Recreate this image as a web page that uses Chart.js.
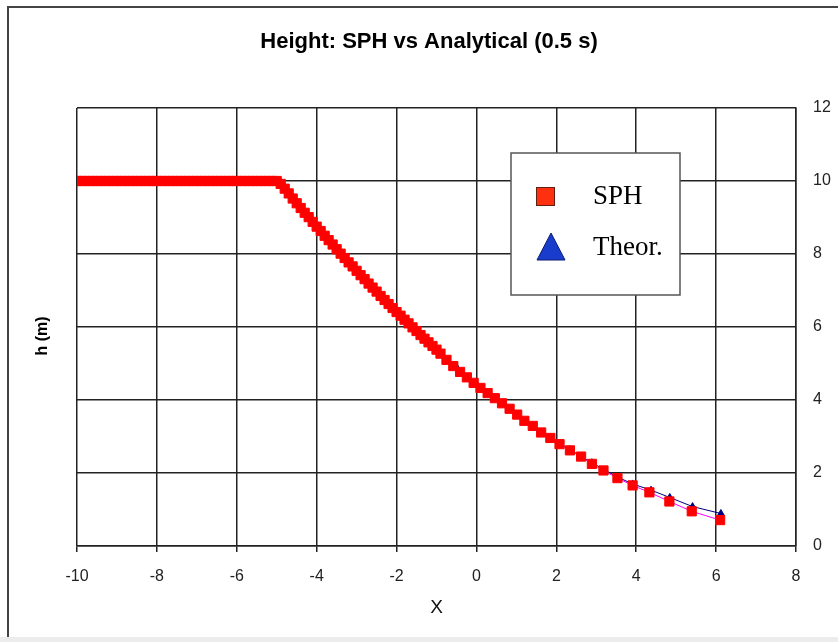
<!DOCTYPE html>
<html>
<head>
<meta charset="utf-8">
<script src="https://cdn.jsdelivr.net/npm/chart.js@4.4.1/dist/chart.umd.min.js"></script>
<style>
  html, body { margin: 0; padding: 0; background: #fff; }
  #wrap { width: 838px; height: 642px; position: relative; }
</style>
</head>
<body>
<div id="wrap"><canvas id="heightChart" width="838" height="642"></canvas></div>
<script>
// values
const sphX = [
  -10.0, -9.9, -9.8, -9.7, -9.6, -9.5, -9.4, -9.3, -9.2, -9.1,
  -9.0, -8.9, -8.8, -8.7, -8.6, -8.5, -8.4, -8.3, -8.2, -8.1,
  -8.0, -7.9, -7.8, -7.7, -7.6, -7.5, -7.4, -7.3, -7.2, -7.1,
  -7.0, -6.9, -6.8, -6.7, -6.6, -6.5, -6.4, -6.3, -6.2, -6.1,
  -6.0, -5.9, -5.8, -5.7, -5.6, -5.5, -5.4, -5.3, -5.2, -5.1, -5.0,
  -4.9, -4.8, -4.7, -4.6, -4.5, -4.4, -4.3, -4.2, -4.1, -4.0,
  -3.9, -3.8, -3.7, -3.6, -3.5, -3.4, -3.3, -3.2, -3.1, -3.0,
  -2.9, -2.8, -2.7, -2.6, -2.5, -2.4, -2.3, -2.2, -2.1, -2.0,
  -1.9, -1.8, -1.7, -1.6, -1.5, -1.4, -1.3, -1.2, -1.1, -1.0,
  -0.9, -0.75, -0.58, -0.41, -0.24, -0.07, 0.10, 0.28, 0.46, 0.64,
  0.83, 1.02, 1.20, 1.41, 1.62, 1.85, 2.08, 2.34, 2.62, 2.89,
  3.18, 3.53, 3.91, 4.33, 4.83, 5.39, 6.10
];
const sphH = [
  10, 10, 10, 10, 10, 10, 10, 10, 10, 10,
  10, 10, 10, 10, 10, 10, 10, 10, 10, 10,
  10, 10, 10, 10, 10, 10, 10, 10, 10, 10,
  10, 10, 10, 10, 10, 10, 10, 10, 10, 10,
  10, 10, 10, 10, 10, 10, 10, 10, 10, 10, 10,
  9.92, 9.79, 9.66, 9.52, 9.39, 9.26, 9.13, 9.01, 8.88, 8.75,
  8.63, 8.50, 8.38, 8.26, 8.13, 8.01, 7.89, 7.77, 7.66, 7.54,
  7.42, 7.31, 7.19, 7.08, 6.97, 6.85, 6.74, 6.63, 6.52, 6.41,
  6.31, 6.20, 6.10, 5.99, 5.89, 5.78, 5.68, 5.58, 5.48, 5.38,
  5.27, 5.10, 4.93, 4.77, 4.62, 4.47, 4.33, 4.19, 4.05, 3.91,
  3.76, 3.60, 3.43, 3.29, 3.11, 2.96, 2.79, 2.62, 2.45, 2.25,
  2.07, 1.86, 1.66, 1.47, 1.22, 0.95, 0.71
];
const theorX = [-10, -9, -8, -7, -6, -5, -4.9, -4.5, -4, -3.5, -3, -2.5, -2, -1.5, -1,
  -0.5, 0, 0.46, 1.02, 1.41, 1.85, 2.34, 2.89, 3.53, 3.91, 4.37, 4.84, 5.41, 6.12];
const theorH = [10, 10, 10, 10, 10, 10, 9.92, 9.39, 8.75, 8.13, 7.54, 6.97, 6.41, 5.89, 5.38,
  4.91, 4.45, 4.06, 3.60, 3.29, 2.97, 2.64, 2.28, 1.89, 1.70, 1.53, 1.33, 1.08, 0.89];
const xTicks = [-10, -8, -6, -4, -2, 0, 2, 4, 6, 8];
const yTicks = [0, 2, 4, 6, 8, 10, 12];
const seriesNames = ['SPH', 'Theor.'];

const toPoints = (xs, ys) => xs.map((x, i) => ({ x: x, y: ys[i] }));

// frame, title, "h (m)" label and the boxed legend
const decorPlugin = {
    id: 'decor',
    beforeDraw(chart) {
        const ctx = chart.ctx;
        ctx.save();
        ctx.fillStyle = '#ffffff';
        ctx.fillRect(0, 0, chart.width, chart.height);
        ctx.fillStyle = '#ececec';
        ctx.fillRect(0, 637, chart.width, chart.height - 637);
        ctx.strokeStyle = '#444';
        ctx.lineWidth = 2;
        ctx.beginPath();
        ctx.moveTo(8, 637);
        ctx.lineTo(8, 7);
        ctx.lineTo(chart.width, 7);
        ctx.stroke();
        ctx.restore();
    },
    afterDraw(chart) {
        const ctx = chart.ctx;
        ctx.save();
        ctx.fillStyle = '#000';
        ctx.font = "bold 22px 'Liberation Sans', Arial, sans-serif";
        ctx.textAlign = 'center';
        ctx.textBaseline = 'middle';
        ctx.fillText('Height: SPH vs Analytical (0.5 s)', 429, 42);

        ctx.translate(43, 336);
        ctx.rotate(-Math.PI / 2);
        ctx.font = "bold 16px 'Liberation Sans', Arial, sans-serif";
        ctx.fillText('h (m)', 0, 0);
        ctx.restore();

        // legend box
        ctx.save();
        ctx.fillStyle = '#fff';
        ctx.fillRect(511, 153, 169, 142);
        ctx.strokeStyle = '#555';
        ctx.lineWidth = 1.5;
        ctx.strokeRect(511, 153, 169, 142);

        ctx.fillStyle = '#ff3010';
        ctx.fillRect(536, 187, 19, 19);
        ctx.strokeStyle = '#602010';
        ctx.lineWidth = 1;
        ctx.strokeRect(536.5, 187.5, 18, 18);

        ctx.fillStyle = '#1a3ccc';
        ctx.beginPath();
        ctx.moveTo(551, 233);
        ctx.lineTo(565, 260);
        ctx.lineTo(537, 260);
        ctx.closePath();
        ctx.fill();
        ctx.strokeStyle = '#0a1a70';
        ctx.stroke();

        ctx.fillStyle = '#000';
        ctx.font = "27px 'Liberation Serif', 'Times New Roman', serif";
        ctx.textAlign = 'left';
        ctx.textBaseline = 'alphabetic';
        ctx.fillText(seriesNames[0], 593, 204);
        ctx.fillText(seriesNames[1], 593, 255);
        ctx.restore();
    }
};

document.addEventListener('DOMContentLoaded', function () {
    const ctx = document.getElementById('heightChart').getContext('2d');
    new Chart(ctx, {
        type: 'scatter',
        data: {
            datasets: [
                {
                    label: seriesNames[0],
                    data: toPoints(sphX, sphH),
                    showLine: true,
                    borderColor: '#ff00ff',
                    borderWidth: 1,
                    pointStyle: 'rect',
                    pointRadius: 6.5,
                    pointBackgroundColor: '#ff0000',
                    pointBorderColor: '#ff0000',
                    pointBorderWidth: 1
                },
                {
                    label: seriesNames[1],
                    data: toPoints(theorX, theorH),
                    showLine: true,
                    borderColor: '#000080',
                    borderWidth: 1,
                    pointStyle: 'triangle',
                    pointRadius: 4,
                    pointBackgroundColor: '#000080',
                    pointBorderColor: '#000080',
                    pointBorderWidth: 1
                }
            ]
        },
        options: {
            responsive: false,
            animation: false,
            layout: { padding: { left: 77, right: 0, top: 108, bottom: 0 } },
            plugins: {
                legend: { display: false },
                tooltip: { enabled: false }
            },
            scales: {
                x: {
                    type: 'linear',
                    min: -10,
                    max: 8,
                    afterBuildTicks: s => { s.ticks = xTicks.map(v => ({ value: v })); },
                    afterFit: s => { s.height = 96; },
                    grid: { color: '#222', lineWidth: 1.5, tickLength: 6 },
                    border: { color: '#222', width: 1.5 },
                    ticks: {
                        color: '#222',
                        padding: 15,
                        maxRotation: 0,
                        font: { size: 16, family: "'Liberation Sans', Arial, sans-serif" }
                    },
                    title: {
                        display: true,
                        text: 'X',
                        color: '#111',
                        padding: { top: 0, bottom: 23 },
                        font: { size: 19, family: "'Liberation Sans', Arial, sans-serif" }
                    }
                },
                y: {
                    type: 'linear',
                    position: 'right',
                    min: 0,
                    max: 12,
                    afterBuildTicks: s => { s.ticks = yTicks.map(v => ({ value: v })); },
                    afterFit: s => { s.width = 42; },
                    grid: { color: '#222', lineWidth: 1.5, drawTicks: false },
                    border: { color: '#222', width: 1.5 },
                    ticks: {
                        color: '#222',
                        padding: 17,
                        font: { size: 16, family: "'Liberation Sans', Arial, sans-serif" }
                    }
                }
            }
        },
        plugins: [decorPlugin]
    });
});
</script>
</body>
</html>
